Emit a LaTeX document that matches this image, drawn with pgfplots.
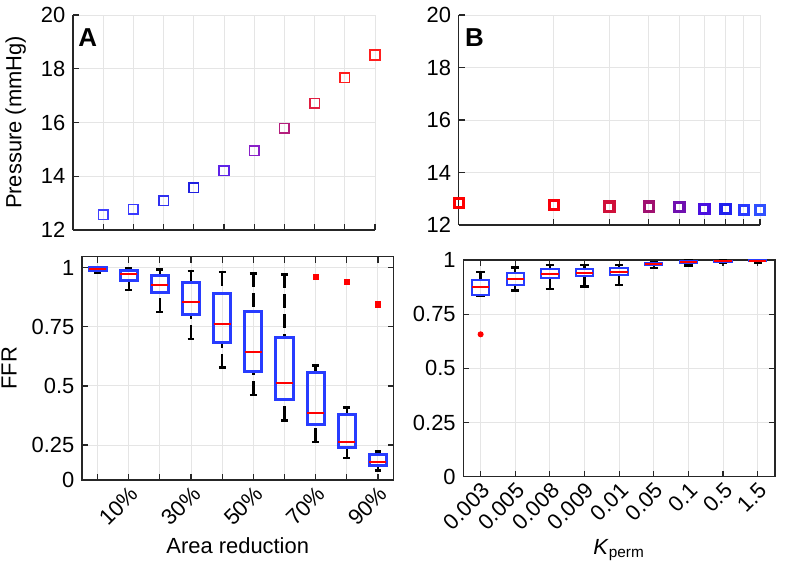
\documentclass[11pt,border=0pt]{standalone}
\usepackage{fontspec}
\setmainfont{Liberation Sans}
\usepackage{pgfplots}
\pgfplotsset{compat=1.18}
\usepgfplotslibrary{statistics}

\definecolor{axgray}{gray}{0.15}
\definecolor{gridgray}{gray}{0.9}
\definecolor{boxblue}{RGB}{40,60,255}
% marker colours, panel A (blue -> red)
\definecolor{ca1}{RGB}{64,64,255}
\definecolor{ca2}{RGB}{58,58,255}
\definecolor{ca3}{RGB}{48,48,240}
\definecolor{ca4}{RGB}{32,32,225}
\definecolor{ca5}{RGB}{95,35,232}
\definecolor{ca6}{RGB}{138,32,200}
\definecolor{ca7}{RGB}{180,30,125}
\definecolor{ca8}{RGB}{225,30,65}
\definecolor{ca9}{RGB}{255,30,30}
\definecolor{ca10}{RGB}{255,30,30}
% marker colours, panel B (red -> blue)
\definecolor{cb1}{RGB}{255,0,0}
\definecolor{cb2}{RGB}{250,0,10}
\definecolor{cb3}{RGB}{208,16,58}
\definecolor{cb4}{RGB}{160,16,112}
\definecolor{cb5}{RGB}{112,16,176}
\definecolor{cb6}{RGB}{74,16,224}
\definecolor{cb7}{RGB}{32,32,238}
\definecolor{cb8}{RGB}{42,58,255}
\definecolor{cb9}{RGB}{48,80,255}

\pgfplotsset{
  panel/.style={
    scale only axis,
    anchor=south west,
    axis line style={axgray, line width=0.6bp},
    tick style={axgray, line width=0.6bp},
    major tick length=3bp,
    tick align=inside,
    grid=major,
    major grid style={gridgray, line width=0.5bp},
    /pgf/number format/assume math mode=true,
    label style={font=\fontsize{11}{13}\selectfont},
    tick label style={font=\fontsize{11}{13}\selectfont},
  },
  fancywhisk/.style={
    boxplot/draw direction=y,
    boxplot/every whisker/.style={black, solid, line width=1.2bp},
    boxplot/every median/.style={red, solid, line width=1bp},
    boxplot/draw/lower whisker/.code={%
      \draw[/pgfplots/boxplot/every whisker/.try, dash pattern=on 7bp off 3bp]
        (boxplot cs:\pgfplotsboxplotvalue{lower whisker})
        -- (boxplot cs:\pgfplotsboxplotvalue{lower quartile});
      \draw[/pgfplots/boxplot/every whisker/.try]
        (boxplot whisker cs:\pgfplotsboxplotvalue{lower whisker},0)
        -- (boxplot whisker cs:\pgfplotsboxplotvalue{lower whisker},1);
    },
    boxplot/draw/upper whisker/.code={%
      \draw[/pgfplots/boxplot/every whisker/.try, dash pattern=on 7bp off 3bp]
        (boxplot cs:\pgfplotsboxplotvalue{upper whisker})
        -- (boxplot cs:\pgfplotsboxplotvalue{upper quartile});
      \draw[/pgfplots/boxplot/every whisker/.try]
        (boxplot whisker cs:\pgfplotsboxplotvalue{upper whisker},0)
        -- (boxplot whisker cs:\pgfplotsboxplotvalue{upper whisker},1);
    },
  },
}

\begin{document}
\begin{tikzpicture}
\useasboundingbox (0,0) rectangle (397.5bp,286bp);

% ---- A, pressure
\begin{axis}[panel,
    at={(36.5bp,171bp)}, width=151bp, height=107.5bp,
    xmin=0, xmax=10, ymin=12, ymax=20,
    xtick={1,...,10}, xticklabels={},
    ytick={12,14,16,18,20},
    axis x line*=bottom, axis y line*=left,
    ylabel={Pressure (mmHg)},
    clip=false,
    scatter/classes={%
        c1={mark=square,draw=ca1}, c2={mark=square,draw=ca2},
        c3={mark=square,draw=ca3}, c4={mark=square,draw=ca4},
        c5={mark=square,draw=ca5}, c6={mark=square,draw=ca6},
        c7={mark=square,draw=ca7}, c8={mark=square,draw=ca8},
        c9={mark=square,draw=ca9}, c10={mark=square,draw=ca10}
    },
    ]
\addplot[scatter, only marks, scatter src=explicit symbolic,
    mark size=2.4bp, line width=0.75bp]
table[meta=label] {
x  y     label
1  12.56 c1
2  12.77 c2
3  13.09 c3
4  13.57 c4
5  14.20 c5
6  14.95 c6
7  15.79 c7
8  16.71 c8
9  17.66 c9
10 18.51 c10
};
\node[anchor=north west, inner sep=0, font=\bfseries\fontsize{13}{15}\selectfont]
    at (rel axis cs:0,1) [xshift=2.5bp, yshift=-6.5bp] {A};
\end{axis}

% ---- B, pressure
\begin{axis}[panel,
    at={(229.35bp,173.5bp)}, width=150.65bp, height=105bp,
    xmode=log, xmin=1, xmax=9, ymin=12, ymax=20,
    xtick={1,2,3,4,5,6,7,8,9}, xticklabels={}, minor xtick={},
    ytick={12,14,16,18,20},
    axis x line*=bottom, axis y line*=left,
    clip=false,
    scatter/classes={%
        c1={mark=square,draw=cb1}, c2={mark=square,draw=cb2},
        c3={mark=square,draw=cb3}, c4={mark=square,draw=cb4},
        c5={mark=square,draw=cb5}, c6={mark=square,draw=cb6},
        c7={mark=square,draw=cb7}, c8={mark=square,draw=cb8},
        c9={mark=square,draw=cb9}
    },
    ]
\addplot[scatter, only marks, scatter src=explicit symbolic,
    mark size=2.3bp, line width=1.6bp]
table[meta=label] {
x y     label
1 12.83 c1
2 12.76 c2
3 12.70 c3
4 12.70 c4
5 12.69 c5
6 12.60 c6
7 12.60 c7
8 12.57 c8
9 12.57 c9
};
\node[anchor=north west, inner sep=0, font=\bfseries\fontsize{13}{15}\selectfont]
    at (rel axis cs:0,1) [xshift=3bp, yshift=-6.5bp] {B};
\end{axis}

% ---- A, FFR
\begin{axis}[panel, fancywhisk,
    at={(41bp,46bp)}, width=155.75bp, height=111.65bp,
    xmin=0.5, xmax=10.5, ymin=0.102, ymax=1.047,
    xtick={1,...,10},
    xticklabels={,10\%,,30\%,,50\%,,70\%,,90\%},
    xticklabel style={rotate=45, anchor=north east, inner sep=1.5bp},
    ytick={0.102,0.25,0.5,0.75,1},
    yticklabels={0,0.25,0.5,0.75,1},
    xlabel={Area reduction}, ylabel={FFR},
    xlabel style={yshift=0.5bp},
    boxplot/box extend=0.55, boxplot/whisker extend=0.22,
    ]
\addplot[draw=boxblue, line width=1.5bp, boxplot prepared={draw position=1,
    lower whisker=0.978, lower quartile=0.990, median=0.995,
    upper quartile=1.000, upper whisker=1.000}] coordinates {};
\addplot[draw=boxblue, line width=1.5bp, boxplot prepared={draw position=2,
    lower whisker=0.907, lower quartile=0.948, median=0.972,
    upper quartile=0.987, upper whisker=0.997}] coordinates {};
\addplot[draw=boxblue, line width=1.5bp, boxplot prepared={draw position=3,
    lower whisker=0.814, lower quartile=0.896, median=0.927,
    upper quartile=0.969, upper whisker=0.993}] coordinates {};
\addplot[draw=boxblue, line width=1.5bp, boxplot prepared={draw position=4,
    lower whisker=0.698, lower quartile=0.801, median=0.856,
    upper quartile=0.937, upper whisker=0.987}] coordinates {};
\addplot[draw=boxblue, line width=1.5bp, boxplot prepared={draw position=5,
    lower whisker=0.578, lower quartile=0.686, median=0.762,
    upper quartile=0.890, upper whisker=0.983}] coordinates {};
\addplot[draw=boxblue, line width=1.5bp, boxplot prepared={draw position=6,
    lower whisker=0.461, lower quartile=0.563, median=0.645,
    upper quartile=0.815, upper whisker=0.976}] coordinates {};
\addplot[draw=boxblue, line width=1.5bp, boxplot prepared={draw position=7,
    lower whisker=0.354, lower quartile=0.444, median=0.514,
    upper quartile=0.704, upper whisker=0.972}] coordinates {};
\addplot[draw=boxblue, line width=1.5bp, boxplot prepared={draw position=8,
    lower whisker=0.264, lower quartile=0.337, median=0.384,
    upper quartile=0.556, upper whisker=0.587}] coordinates {};
\addplot[draw=boxblue, line width=1.5bp, boxplot prepared={draw position=9,
    lower whisker=0.195, lower quartile=0.239, median=0.264,
    upper quartile=0.380, upper whisker=0.409}] coordinates {};
\addplot[draw=boxblue, line width=1.5bp, boxplot prepared={draw position=10,
    lower whisker=0.143, lower quartile=0.163, median=0.177,
    upper quartile=0.208, upper whisker=0.223}] coordinates {};
% outliers
\addplot[only marks, mark=square*, mark size=1.3bp, red]
    coordinates {(8,0.961) (9,0.939) (10,0.845)};
\end{axis}

% ---- B, FFR
\begin{axis}[panel, fancywhisk,
    at={(231.65bp,47.65bp)}, width=155.85bp, height=108.35bp,
    xmin=0.5, xmax=9.5, ymin=0, ymax=1,
    xtick={1,...,9},
    xticklabels={0.003,0.005,0.008,0.009,0.01,0.05,0.1,0.5,1.5},
    xticklabel style={rotate=45, anchor=north east, inner sep=1.5bp},
    ytick={0,0.25,0.5,0.75,1},
    yticklabels={0,0.25,0.5,0.75,1},
    xlabel={\textit{K}\textsubscript{perm}},
    xlabel style={yshift=2bp},
    boxplot/box extend=0.5, boxplot/whisker extend=0.24,
    ]
\addplot[draw=boxblue, line width=1bp, boxplot prepared={draw position=1,
    lower whisker=0.834, lower quartile=0.838, median=0.874,
    upper quartile=0.908, upper whisker=0.946}] coordinates {};
\addplot[draw=boxblue, line width=1bp, boxplot prepared={draw position=2,
    lower whisker=0.860, lower quartile=0.886, median=0.911,
    upper quartile=0.938, upper whisker=0.966}] coordinates {};
\addplot[draw=boxblue, line width=1bp, boxplot prepared={draw position=3,
    lower whisker=0.866, lower quartile=0.918, median=0.935,
    upper quartile=0.957, upper whisker=0.977}] coordinates {};
\addplot[draw=boxblue, line width=1bp, boxplot prepared={draw position=4,
    lower whisker=0.877, lower quartile=0.925, median=0.942,
    upper quartile=0.958, upper whisker=0.977}] coordinates {};
\addplot[draw=boxblue, line width=1bp, boxplot prepared={draw position=5,
    lower whisker=0.886, lower quartile=0.929, median=0.946,
    upper quartile=0.963, upper whisker=0.978}] coordinates {};
\addplot[draw=boxblue, line width=1bp, boxplot prepared={draw position=6,
    lower whisker=0.962, lower quartile=0.975, median=0.982,
    upper quartile=0.988, upper whisker=0.992}] coordinates {};
\addplot[draw=boxblue, line width=1bp, boxplot prepared={draw position=7,
    lower whisker=0.975, lower quartile=0.985, median=0.989,
    upper quartile=0.995, upper whisker=0.997}] coordinates {};
\addplot[draw=boxblue, line width=1bp, boxplot prepared={draw position=8,
    lower whisker=0.985, lower quartile=0.991, median=0.994,
    upper quartile=0.997, upper whisker=0.998}] coordinates {};
\addplot[draw=boxblue, line width=1bp, boxplot prepared={draw position=9,
    lower whisker=0.989, lower quartile=0.994, median=0.995,
    upper quartile=0.998, upper whisker=1.000}] coordinates {};
% outlier
\addplot[only marks, mark=*, mark size=1.3bp, red]
    coordinates {(1,0.657)};
\end{axis}
\end{tikzpicture}
\end{document}
